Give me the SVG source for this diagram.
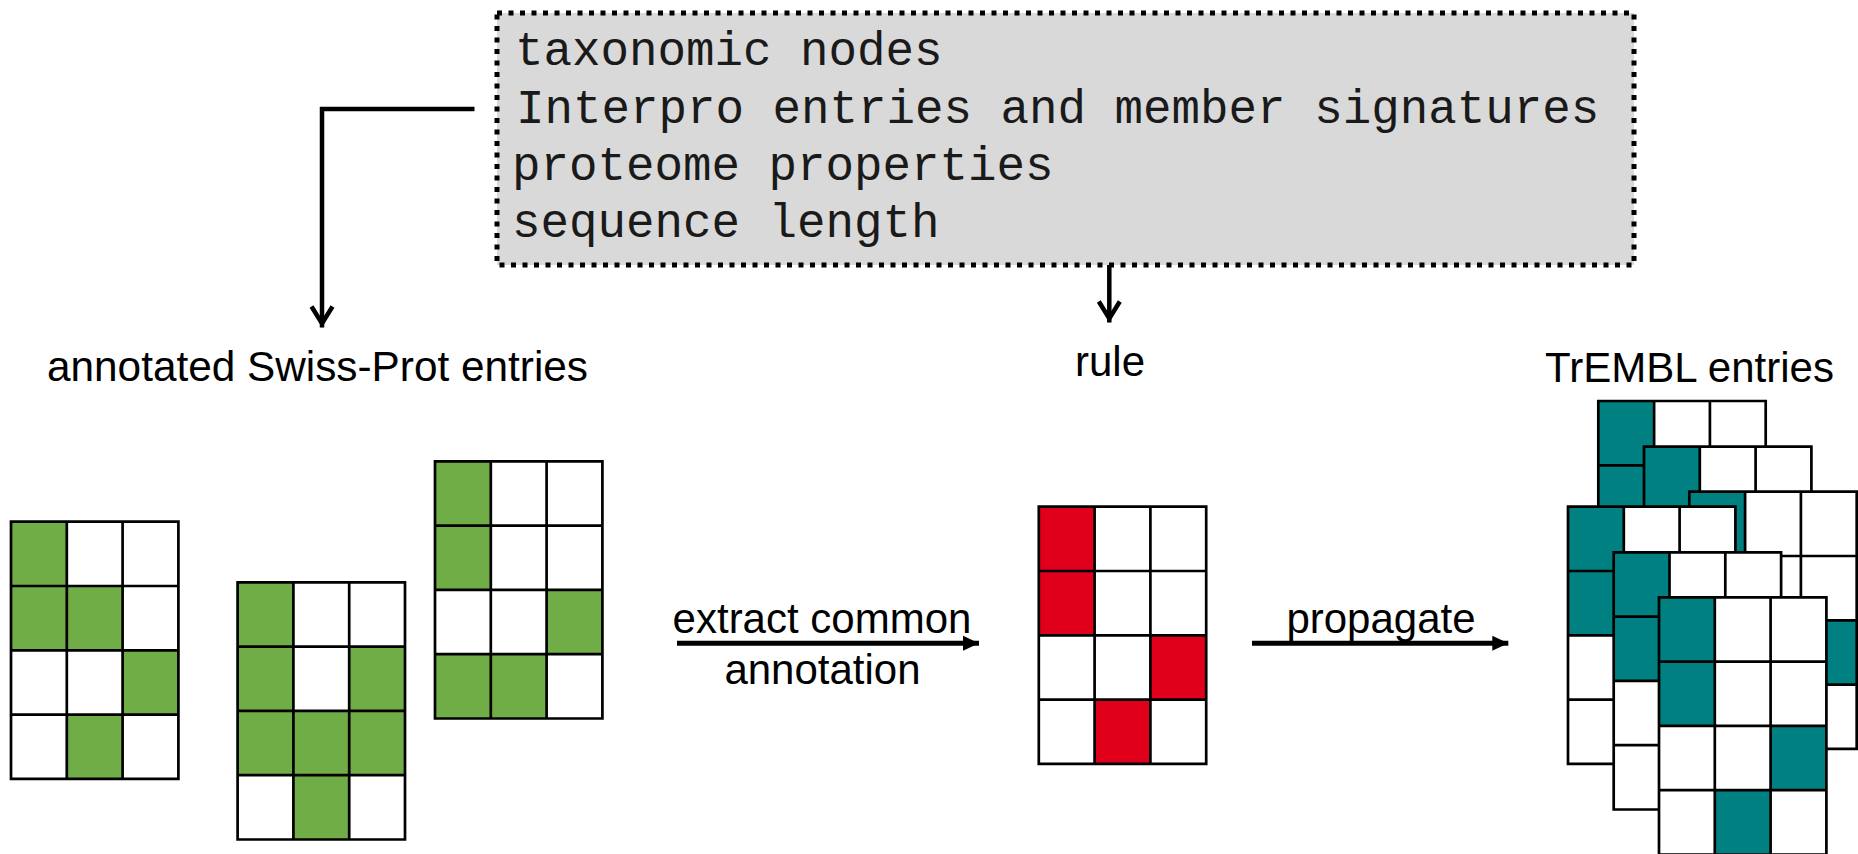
<svg xmlns="http://www.w3.org/2000/svg" xmlns:xlink="http://www.w3.org/1999/xlink" width="1858" height="854" viewBox="0 0 1858 854">
<style>
.lbl{font-family:"Liberation Sans",Arial,sans-serif;font-size:42px;fill:#000}
.mono{font-family:"Liberation Mono","Courier New",monospace;font-size:47.5px;fill:#1a1a1a}
.conn{fill:none;stroke:#000;stroke-width:4.5}
.grn{fill:#70AD47}
.red{fill:#E0001B}
.tea{fill:#008080}
</style>
<defs>
<marker id="vhead" markerUnits="userSpaceOnUse" viewBox="-30 -15 34 30" markerWidth="34" markerHeight="30" refX="0" refY="0" orient="auto">
<path d="M-21,-10.5 L-4,0 L-21,10.5" fill="none" stroke="#000" stroke-width="4.5" stroke-linejoin="miter"/>
</marker>
<marker id="thead" markerUnits="userSpaceOnUse" viewBox="-17 -8 18 16" markerWidth="18" markerHeight="16" refX="0" refY="0" orient="auto">
<path d="M-16,-7.5 L0,0 L-16,7.5 Z" fill="#000"/>
</marker>
<rect id="bg" width="167.4" height="257.2" fill="#fff"/>
<path id="lines" d="M0 0H167.4V257.2H0Z M55.8 0V257.2 M111.6 0V257.2 M0 64.3H167.4 M0 128.6H167.4 M0 192.9H167.4" fill="none" stroke="#000" stroke-width="2.7"/>
<g id="rc">
<rect x="0" y="0" width="55.8" height="64.3"/>
<rect x="0" y="64.3" width="55.8" height="64.3"/>
<rect x="111.6" y="128.6" width="55.8" height="64.3"/>
<rect x="55.8" y="192.9" width="55.8" height="64.3"/>
</g>
<g id="tealgrid"><use xlink:href="#bg"/><use xlink:href="#rc" class="tea"/><use xlink:href="#lines"/></g>
</defs>

<g id="features">
<rect x="497" y="13" width="1137" height="252" fill="#D9D9D9" stroke="#000" stroke-width="5" stroke-dasharray="5 6.5"/>
<text class="mono" x="515" y="65">taxonomic nodes</text>
<text class="mono" x="516" y="123">Interpro entries and member signatures</text>
<text class="mono" x="512" y="180">proteome properties</text>
<text class="mono" x="512" y="237">sequence length</text>
</g>

<g id="swissprot">
<text class="lbl" x="47" y="381" textLength="541" lengthAdjust="spacingAndGlyphs">annotated Swiss-Prot entries</text>
<g id="sp1" transform="translate(11,521.7)">
<use xlink:href="#bg"/>
<g class="grn">
<rect x="0" y="0" width="55.8" height="64.3"/>
<rect x="0" y="64.3" width="55.8" height="64.3"/>
<rect x="55.8" y="64.3" width="55.8" height="64.3"/>
<rect x="111.6" y="128.6" width="55.8" height="64.3"/>
<rect x="55.8" y="192.9" width="55.8" height="64.3"/>
</g>
<use xlink:href="#lines"/>
</g>
<g id="sp2" transform="translate(237.6,582.3)">
<use xlink:href="#bg"/>
<g class="grn">
<rect x="0" y="0" width="55.8" height="64.3"/>
<rect x="0" y="64.3" width="55.8" height="64.3"/>
<rect x="111.6" y="64.3" width="55.8" height="64.3"/>
<rect x="0" y="128.6" width="55.8" height="64.3"/>
<rect x="55.8" y="128.6" width="55.8" height="64.3"/>
<rect x="111.6" y="128.6" width="55.8" height="64.3"/>
<rect x="55.8" y="192.9" width="55.8" height="64.3"/>
</g>
<use xlink:href="#lines"/>
</g>
<g id="sp3" transform="translate(435,461.3)">
<use xlink:href="#bg"/>
<g class="grn">
<rect x="0" y="0" width="55.8" height="64.3"/>
<rect x="0" y="64.3" width="55.8" height="64.3"/>
<rect x="111.6" y="128.6" width="55.8" height="64.3"/>
<rect x="0" y="192.9" width="55.8" height="64.3"/>
<rect x="55.8" y="192.9" width="55.8" height="64.3"/>
</g>
<use xlink:href="#lines"/>
</g>
</g>

<g id="rule">
<text class="lbl" x="1110" y="376" text-anchor="middle">rule</text>
<g transform="translate(1038.8,506.7)">
<use xlink:href="#bg"/>
<use xlink:href="#rc" class="red"/>
<use xlink:href="#lines"/>
</g>
</g>

<g id="trembl">
<text class="lbl" x="1545" y="381.5" textLength="289" lengthAdjust="spacingAndGlyphs">TrEMBL entries</text>
<use xlink:href="#tealgrid" transform="translate(1598.3,401)"/>
<use xlink:href="#tealgrid" transform="translate(1644,446.7)"/>
<use xlink:href="#tealgrid" transform="translate(1689.3,491.7)"/>
<use xlink:href="#tealgrid" transform="translate(1568,506.7)"/>
<use xlink:href="#tealgrid" transform="translate(1613.7,552.3)"/>
<use xlink:href="#tealgrid" transform="translate(1659,597.3)"/>
</g>

<g id="connectors">
<path class="conn" d="M474.5 109 H322 V327.5" marker-end="url(#vhead)"/>
<path class="conn" d="M1109.3 265 V322.5" marker-end="url(#vhead)"/>
<path d="M677 643.3 H979" fill="none" stroke="#000" stroke-width="5" marker-end="url(#thead)"/>
<path d="M1252 643.3 H1508.3" fill="none" stroke="#000" stroke-width="5" marker-end="url(#thead)"/>
<text class="lbl" x="822" y="633" text-anchor="middle">extract common</text>
<text class="lbl" x="822.5" y="683.5" text-anchor="middle">annotation</text>
<text class="lbl" x="1381" y="633" text-anchor="middle">propagate</text>
</g>
</svg>
